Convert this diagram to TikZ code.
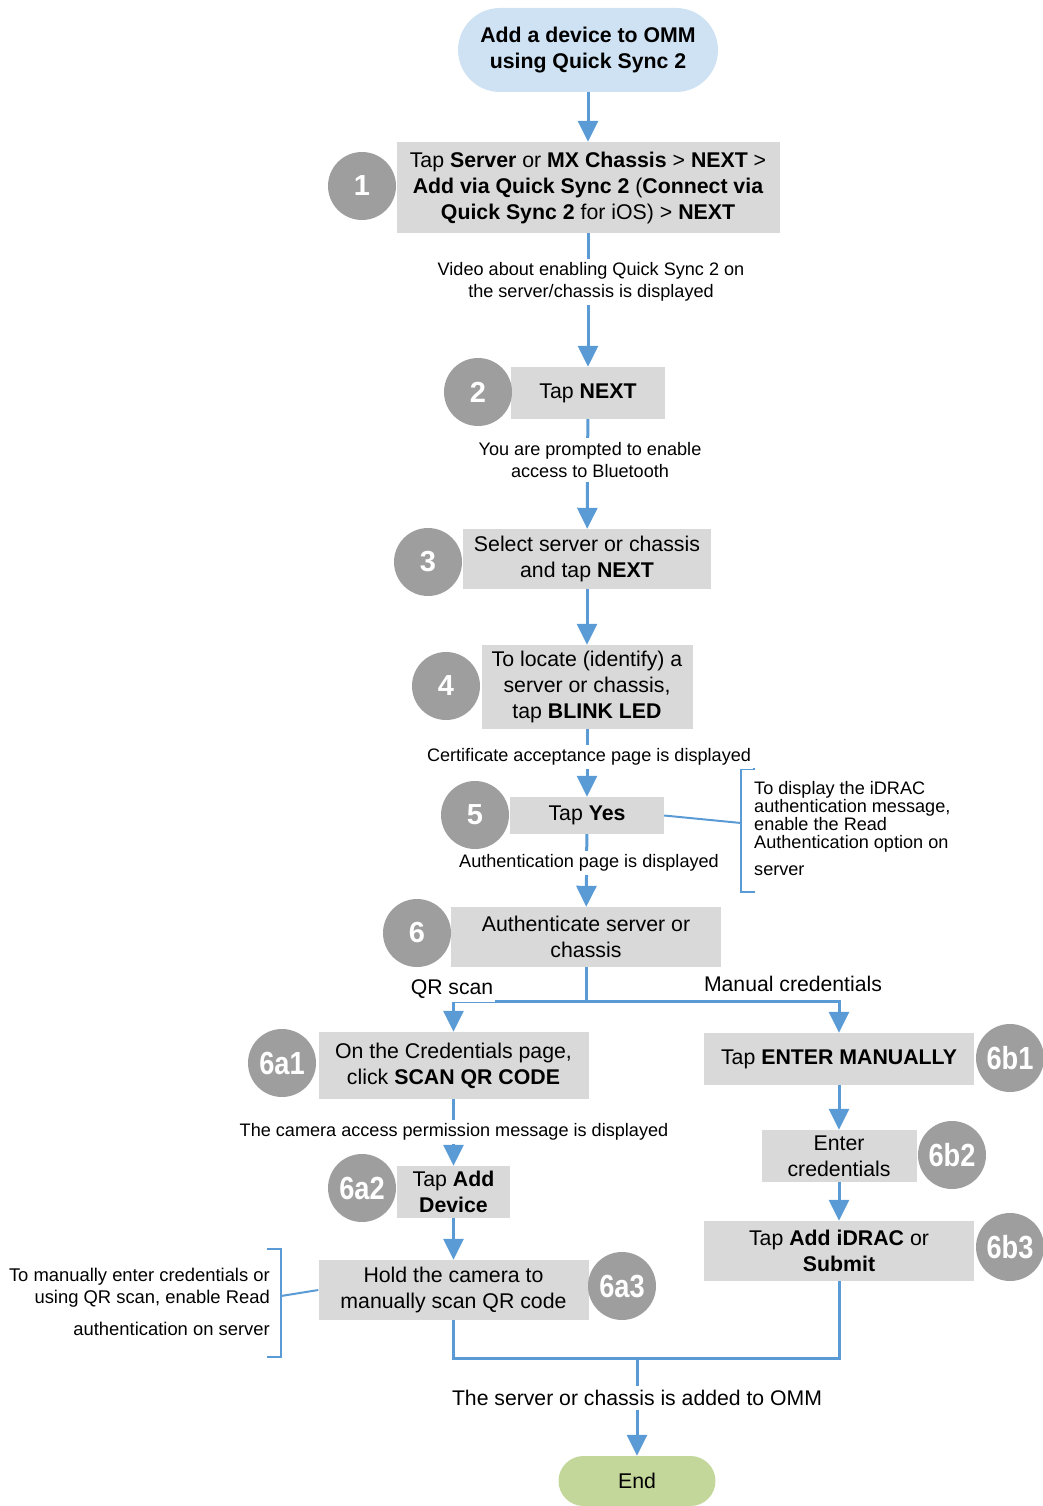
\documentclass[tikz,border=0pt]{standalone}
\usepackage{fontspec}
\usepackage{graphicx}
\setmainfont{Liberation Sans}
\usetikzlibrary{arrows.meta}
\definecolor{lineblue}{HTML}{5B9BD5}
\definecolor{boxgray}{HTML}{D9D9D9}
\definecolor{circgray}{HTML}{9E9E9E}
\definecolor{startblue}{HTML}{CFE2F3}
\definecolor{endgreen}{HTML}{C4D79B}
\begin{document}
\begin{tikzpicture}[x=1pt,y=-1pt,
  box/.style={fill=boxgray, inner sep=0pt, align=center, font=\fontsize{21.3}{26}\selectfont},
  num/.style={circle, fill=circgray, text=white, inner sep=0pt, minimum size=68pt, font=\fontsize{29}{30}\selectfont\bfseries},
  numw/.style={num, font=\fontsize{32}{32}\selectfont\bfseries},
  conn/.style={draw=lineblue, line width=3pt},
  arr/.style={conn, -{Triangle[width=20pt,length=21pt]}},
  brk/.style={draw=lineblue, line width=2pt},
  lbl/.style={fill=white, align=center, inner xsep=2pt, inner ysep=4pt, font=\fontsize{18.1}{22}\selectfont},
  biglbl/.style={fill=white, align=center, inner xsep=2pt, inner ysep=4pt, font=\fontsize{21.2}{24}\selectfont},
  term/.style={inner sep=0pt, align=center, font=\fontsize{21.3}{26}\selectfont},
]
\useasboundingbox (0,0) rectangle (1042,1506);

% terminals
\node[term, fill=startblue, rounded corners=42pt, minimum width=260pt, minimum height=84pt, font=\fontsize{21.3}{26}\selectfont\bfseries] (start) at (588,50) {Add a device to OMM\\using Quick Sync 2};
\node[term, fill=endgreen, rounded corners=25pt, minimum width=157pt, minimum height=50pt] (end) at (637,1481) {End};

% boxes
\node[box, minimum width=383pt, minimum height=91pt] (b1) at (588,187.5) {Tap \textbf{Server} or \textbf{MX Chassis} > \textbf{NEXT} >\\\textbf{Add via Quick Sync 2} (\textbf{Connect via}\\\textbf{Quick Sync 2} for iOS) > \textbf{NEXT}};
\node[box, minimum width=154pt, minimum height=52pt] (b2) at (588,393) {Tap \textbf{NEXT}};
\node[box, minimum width=248pt, minimum height=60pt] (b3) at (587,559) {Select server or chassis\\and tap \textbf{NEXT}};
\node[box, minimum width=211pt, minimum height=84pt] (b4) at (587,687) {To locate (identify) a\\server or chassis,\\tap \textbf{BLINK LED}};
\node[box, minimum width=154pt, minimum height=37pt] (b5) at (587,815.5) {Tap \textbf{Yes}};
\node[box, minimum width=270pt, minimum height=60pt] (b6) at (586,937) {Authenticate server or\\chassis};
\node[box, minimum width=270pt, minimum height=67pt] (b6a1) at (453.5,1065.5) {On the Credentials page,\\click \textbf{SCAN QR CODE}};
\node[box, minimum width=113pt, minimum height=52pt] (b6a2) at (453.5,1192) {Tap \textbf{Add}\\\textbf{Device}};
\node[box, minimum width=270pt, minimum height=60pt] (b6a3) at (453.5,1290) {Hold the camera to\\manually scan QR code};
\node[box, minimum width=270pt, minimum height=52pt] (b6b1) at (839,1059) {Tap \textbf{ENTER MANUALLY}};
\node[box, minimum width=155pt, minimum height=52pt] (b6b2) at (839,1156) {Enter\\credentials};
\node[box, minimum width=270pt, minimum height=60pt] (b6b3) at (839,1251) {Tap \textbf{Add iDRAC} or\\\textbf{Submit}};

% number circles
\node[num] (n1) at (362,186) {1};
\node[num] (n2) at (478,392) {2};
\node[num] (n3) at (428,562) {3};
\node[num] (n4) at (446,686) {4};
\node[num] (n5) at (475,815) {5};
\node[num] (n6) at (417,933) {6};
\node[numw] (n6a1) at (282,1063) {\scalebox{0.85}[1]{6a1}};
\node[numw] (n6a2) at (362,1188) {\scalebox{0.85}[1]{6a2}};
\node[numw] (n6a3) at (622,1286) {\scalebox{0.85}[1]{6a3}};
\node[numw] (n6b1) at (1010,1058) {\scalebox{0.85}[1]{6b1}};
\node[numw] (n6b2) at (952,1155) {\scalebox{0.85}[1]{6b2}};
\node[numw] (n6b3) at (1010,1247) {\scalebox{0.85}[1]{6b3}};

% main column connectors
\draw[arr] (start) -- (b1);
\draw[arr] (b1) -- (b2);
\draw[arr] (b2) -- (b3);
\draw[arr] (b3) -- (b4);
\draw[arr] (b4) -- (b5);
\draw[arr] (b5) -- (b6);

% branch
\coordinate (sp) at (586,1001);
\draw[conn] (b6) -- (sp);
\draw[arr] (sp) -| (b6a1.north);
\draw[arr] (sp) -| (b6b1.north);
\draw[arr] (b6a1) -- (b6a2);
\draw[arr] (b6a2) -- (b6a3);
\draw[arr] (b6b1) -- (b6b2);
\draw[arr] (b6b2) -- (b6b3);

% merge
\coordinate (m) at (637,1358);
\draw[conn] (b6a3.south) |- (m) -| (b6b3.south);
\draw[arr] (m) -- (end);

% brackets and notes
\coordinate (brR) at (741,823);
\draw[brk] (755,769) -- (741,769) -- (741,892) -- (755,892);
\draw[brk] (b5.east) -- (brR);
\node[anchor=west, align=left, inner sep=0pt, font=\fontsize{18.1}{18}\selectfont] (noteR) at (754,829) {To display the iDRAC\\authentication message,\\enable the Read\\Authentication option on\\[9pt]server};

\coordinate (brL) at (281,1296);
\draw[brk] (267,1249) -- (281,1249) -- (281,1357) -- (267,1357);
\draw[brk] (brL) -- (b6a3.west);
\node[anchor=east, align=right, inner sep=0pt, font=\fontsize{18.4}{22}\selectfont] (noteL) at (270,1302) {To manually enter credentials or\\using QR scan, enable Read\\[10pt]authentication on server};

% edge labels
\node[lbl] (l1) at (591,282) {Video about enabling Quick Sync 2 on\\the server/chassis is displayed};
\node[lbl] (l2) at (590,460) {You are prompted to enable\\access to Bluetooth};
\node[lbl] (l4) at (589,757) {Certificate acceptance page is displayed};
\node[lbl] (l5) at (589,863) {Authentication page is displayed};
\node[lbl] (l6a) at (454,1132) {The camera access permission message is displayed};
\node[biglbl] (lqr) at (452,989) {QR scan};
\node[biglbl] (lman) at (793,984) {Manual credentials};
\node[biglbl] (lend) at (637,1398) {The server or chassis is added to OMM};
\end{tikzpicture}
\end{document}
